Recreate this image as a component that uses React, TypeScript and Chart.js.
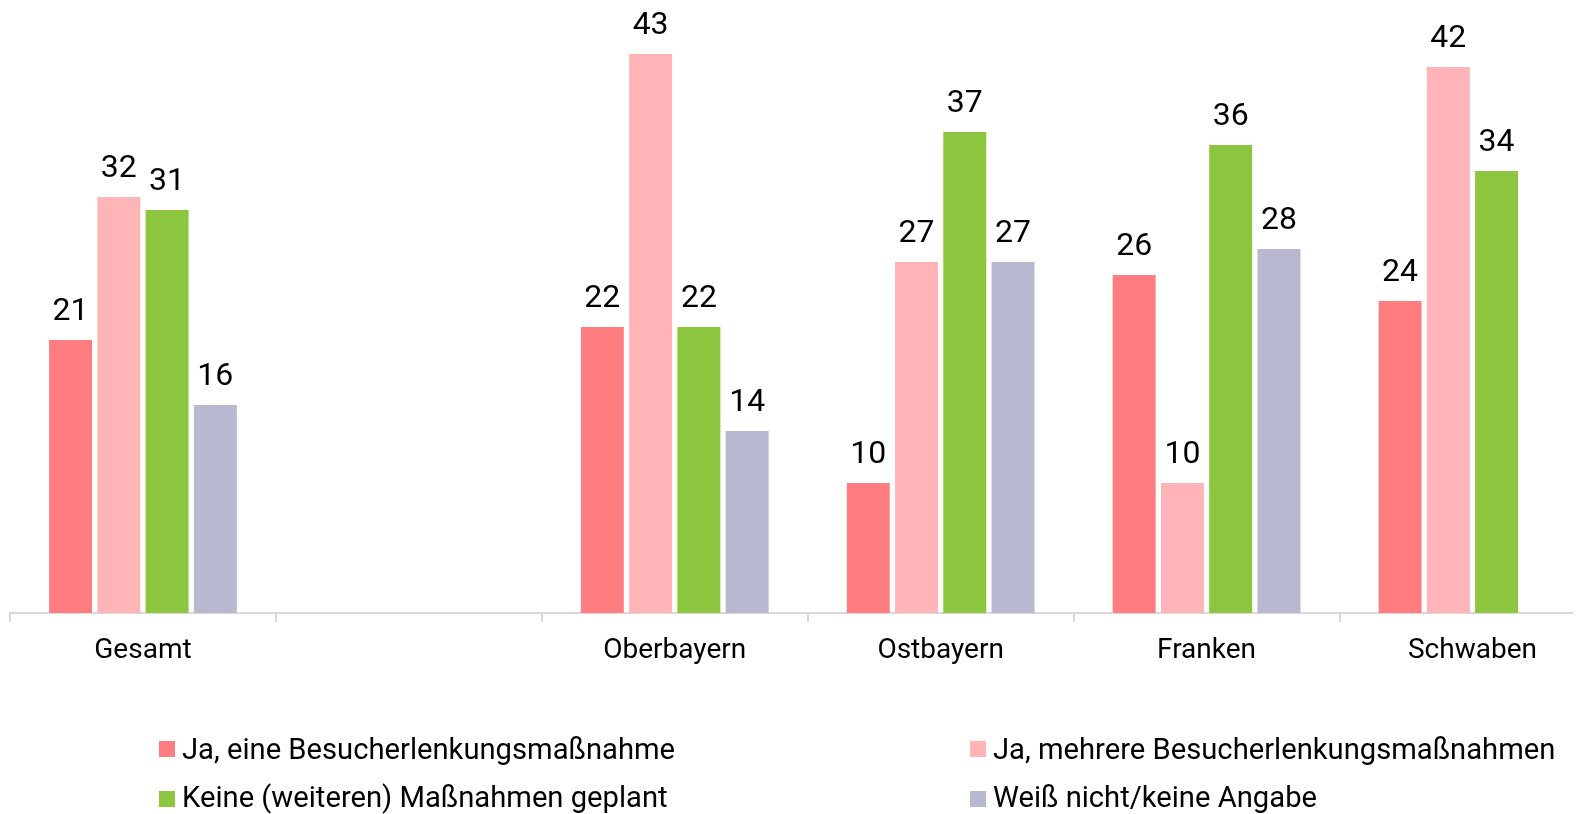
import React, { useEffect, useRef } from "react";
import { Chart, registerables } from "chart.js";

Chart.register(...registerables);

const categories = ["Gesamt", "", "Oberbayern", "Ostbayern", "Franken", "Schwaben"];
const seriesNames = [
  "Ja, eine Besucherlenkungsmaßnahme",
  "Ja, mehrere Besucherlenkungsmaßnahmen",
  "Keine (weiteren) Maßnahmen geplant",
  "Weiß nicht/keine Angabe",
];
const jaEine = [21, null, 22, 10, 26, 24];
const jaMehrere = [32, null, 43, 27, 10, 42];
const keine = [31, null, 22, 37, 36, 34];
const weissNicht = [16, null, 14, 27, 28, null];
const colors = ["#FF7C80", "#FFB5B7", "#8CC63E", "#B8B8D0"];

const FONT = "Roboto, 'Noto Sans', sans-serif";

const valueLabels = {
  id: "valueLabels",
  afterDatasetsDraw(chart: any) {
    const ctx = chart.ctx;
    ctx.save();
    ctx.font = `32px ${FONT}`;
    ctx.fillStyle = "#000";
    ctx.textAlign = "center";
    ctx.textBaseline = "alphabetic";
    chart.data.datasets.forEach((ds: any, di: number) => {
      const meta = chart.getDatasetMeta(di);
      meta.data.forEach((el: any, i: number) => {
        const v = ds.data[i];
        if (v === null || v === undefined) return;
        ctx.fillText(String(v), el.x, el.y - 20);
      });
    });
    ctx.restore();
  },
};

const customLegend = {
  id: "customLegend",
  afterDraw(chart: any) {
    const ctx = chart.ctx;
    ctx.save();
    ctx.font = `29.2px ${FONT}`;
    ctx.fillStyle = "#000";
    ctx.textAlign = "left";
    ctx.textBaseline = "middle";
    const colX = [151, 962];
    const rowY = [741, 791];
    const textDy = [2.5, 1];
    chart.data.datasets.forEach((ds: any, i: number) => {
      const x = colX[i % 2];
      const r = Math.floor(i / 2);
      const y = rowY[r];
      ctx.fillStyle = ds.backgroundColor;
      ctx.fillRect(x, y - 8, 16, 16);
      ctx.fillStyle = "#000";
      ctx.fillText(ds.label, x + 23, y + textDy[r]);
    });
    ctx.restore();
  },
};

export default function App() {
  const ref = useRef<HTMLCanvasElement>(null);
  useEffect(() => {
    document.documentElement.style.overflow = "hidden";
    document.body.style.overflow = "hidden";
    const canvas = ref.current!;
    const seriesData = [jaEine, jaMehrere, keine, weissNicht];
    const chart = new Chart(canvas, {
      type: "bar",
      data: {
        labels: categories,
        datasets: seriesData.map((d, i) => ({
          label: seriesNames[i],
          data: d,
          backgroundColor: colors[i],
          borderWidth: 0,
          barPercentage: 0.89,
          categoryPercentage: 0.726,
        })),
      },
      options: {
        animation: false,
        responsive: false,
        devicePixelRatio: 1,
        layout: { padding: { top: 20, left: 2, right: 2.6, bottom: 134.5 } },
        plugins: {
          legend: { display: false },
          tooltip: { enabled: false },
        },
        scales: {
          x: {
            border: { display: true, color: "#d9d9d9", width: 2 },
            grid: {
              display: true,
              drawOnChartArea: false,
              drawTicks: true,
              tickLength: 9,
              color: "#d9d9d9",
              lineWidth: 2,
            },
            ticks: {
              color: "#000",
              font: { family: FONT, size: 28 },
              padding: 12,
              maxRotation: 0,
              autoSkip: false,
            },
          },
          y: { display: false, min: 0, max: 45 },
        },
      },
      plugins: [valueLabels, customLegend],
    });
    return () => chart.destroy();
  }, []);
  return (
    <div style={{ width: "1573px", height: "806px", overflow: "hidden", marginRight: "-8px" }}>
      <canvas ref={ref} width={1600} height={806} style={{ display: "block", width: "1600px", height: "806px" }} />
    </div>
  );
}
